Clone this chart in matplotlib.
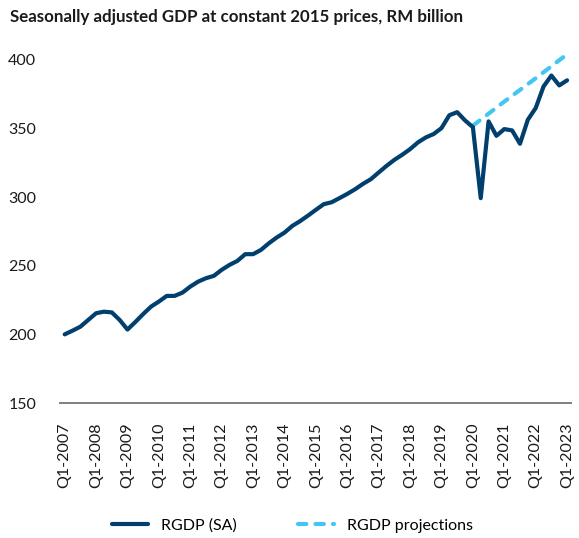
import matplotlib
matplotlib.use("Agg")
import matplotlib.pyplot as plt

plt.rcParams["font.family"] = ["Lato", "DejaVu Sans"]

# Quarterly seasonally adjusted real GDP, Q1-2007 .. Q1-2023 (RM billion)
years = list(range(2007, 2024))
quarters = [f"Q{q}-{y}" for y in years for q in range(1, 5)][:65]
rgdp = [
    200, 202.7, 205.6, 210.5,
    215.4, 216.5, 216, 210.5,
    203.5, 209, 214.8, 220.2,
    223.9, 228, 228, 230.4,
    234.8, 238.4, 240.9, 242.6,
    247, 250.6, 253.5, 258.4,
    258.4, 261.5, 266.3, 270.5,
    274.1, 279, 282.5, 286.5,
    290.7, 294.8, 296.2, 299.2,
    302.3, 305.7, 309.6, 313,
    317.9, 322.7, 327.1, 330.8,
    334.9, 339.8, 343.4, 345.9,
    350.2, 359.6, 361.8, 355.8,
    350.9, 299.2, 355.1, 344.6,
    349.5, 348.5, 338.8, 356.3,
    364.8, 380.5, 388.5, 381.3,
    385,
]
# Projection points (Q1 of 2020, 2021, 2022, 2023)
proj_labels = ["Q1-2020", "Q1-2021", "Q1-2022", "Q1-2023"]
proj_values = [352, 369.5, 386.5, 404]

NAVY = "#003F6E"
SKY = "#44C6F2"
FS = 11.5

fig = plt.figure(figsize=(5.79, 5.38), dpi=100)
ax = fig.add_axes([0.1036, 0.2509, 0.8826, 0.6636])

x = list(range(len(quarters)))
px = [quarters.index(lbl) for lbl in proj_labels]
ax.plot(px, proj_values, color=SKY, lw=3.0, ls=(0, (2.0, 2.2)),
        solid_capstyle="round", dash_capstyle="round", label="RGDP projections",
        zorder=2)
ax.plot(x, rgdp, color=NAVY, lw=3.0, solid_capstyle="round",
        solid_joinstyle="round", label="RGDP (SA)", zorder=3)

ax.set_xlim(-0.6, 64.5)
ax.set_ylim(150, 410)
ax.set_yticks([150, 200, 250, 300, 350, 400])
ax.set_xticks(list(range(0, 65, 4)))
ax.set_xticklabels([quarters[i] for i in range(0, 65, 4)], rotation=90)

for s in ["top", "right", "left"]:
    ax.spines[s].set_visible(False)
ax.spines["bottom"].set_color("#7f7f7f")
ax.spines["bottom"].set_linewidth(1.4)
ax.tick_params(axis="both", length=0, labelsize=FS, colors="#1a1a1a")
ax.yaxis.set_tick_params(pad=17)
ax.xaxis.set_tick_params(pad=14)

fig.text(0.017, 0.968, "Seasonally adjusted GDP at constant 2015 prices, RM billion",
         fontsize=12.2, fontweight="bold", ha="left", va="center", color="#1a1a1a")

handles, labels = ax.get_legend_handles_labels()
leg = fig.legend(handles[::-1], labels[::-1], loc="center", ncol=2,
                 bbox_to_anchor=(0.505, 0.023), frameon=False, fontsize=FS,
                 handlelength=2.3, columnspacing=3.8, handletextpad=0.8)

fig.savefig("out.png", dpi=100)
